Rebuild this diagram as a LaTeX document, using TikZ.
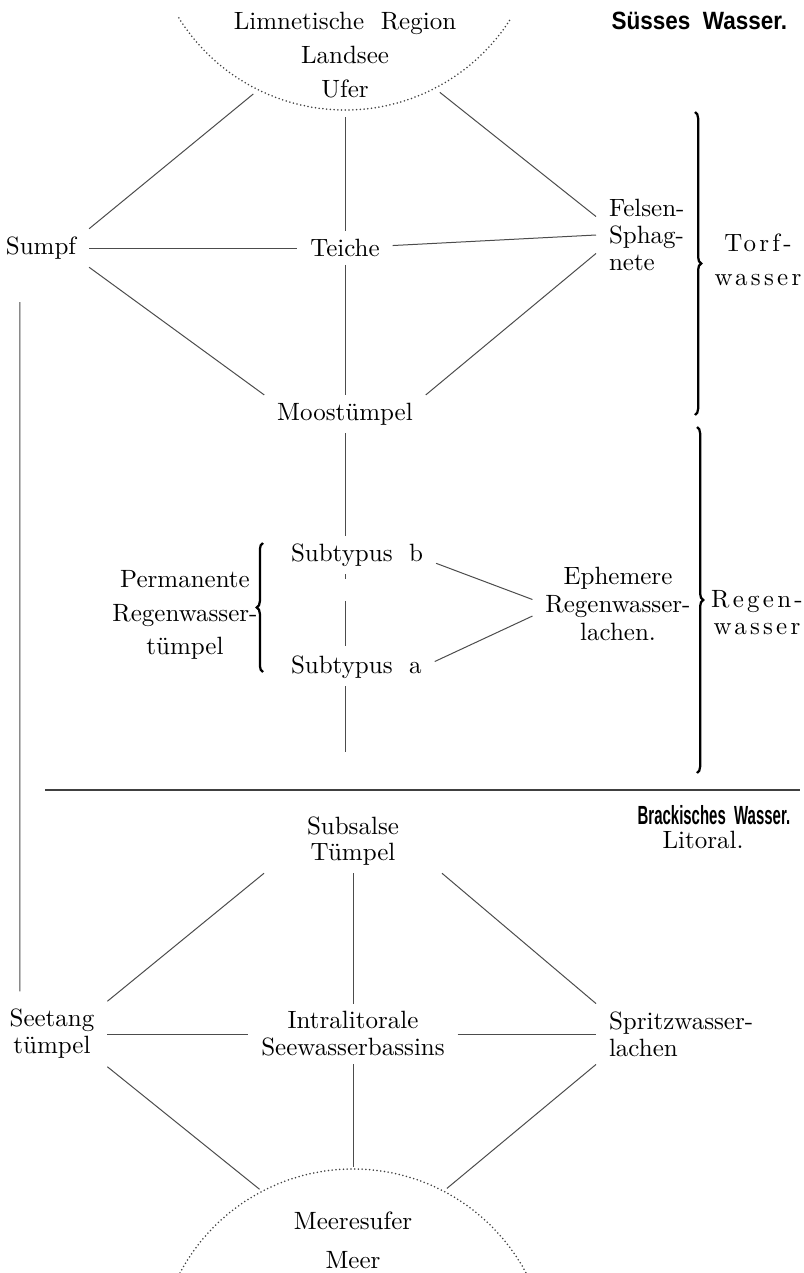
\documentclass[tikz,border=0pt]{standalone}
\usepackage{fontspec}
\newfontfamily\kopf{Liberation Sans}[FakeStretch=0.9]
\newfontfamily\kopfschmal{Liberation Sans}[FakeStretch=0.57]
\newfontfamily\sperrfont{lmroman10-regular.otf}[LetterSpace=13]
\usetikzlibrary{decorations.pathreplacing}

\begin{document}
\begin{tikzpicture}[x=0.4pt, y=-0.4pt,
    txt/.style={inner xsep=5pt, inner ysep=3pt, align=center},
    verb/.style={line width=0.4pt, black!70},
    punkt/.style={line width=0.7pt, black!75, line cap=round, dash pattern=on 0pt off 1.5pt},
    klammer/.style={decorate, decoration={brace, amplitude=2.5pt}, line width=0.9pt},
    sperr/.style={align=center}]
    \useasboundingbox (0,0) rectangle (804,1273);

    % 1. Suesses Wasser
    \draw[punkt] ([shift={(345,-86)}]148:196) arc[start angle=148, end angle=32, radius=196];
    \coordinate (seeL) at ([shift={(345,-86)}]117:202);
    \coordinate (seeC) at ([shift={(345,-86)}]90:203);
    \coordinate (seeR) at ([shift={(345,-86)}]62:202);
    \node[txt, font=\fontsize{10}{13.6}\selectfont] (see) at (345,55) {Limnetische\ \ Region\\Landsee\\Ufer};
    \node[anchor=east, font=\kopf\bfseries\fontsize{10}{12}\selectfont] (suess) at (796,21) {Süsses\ \ Wasser.};

    \node[txt] (sumpf) at (41,248) {Sumpf};
    \node[txt] (teiche) at (345,248) {Teiche};
    \node[txt, align=left, anchor=west, font=\fontsize{10}{10.8}\selectfont] (felsen) at (596,235) {Felsen-\\Sphag-\\nete};
    \node[sperr, font=\sperrfont\fontsize{10}{13.6}\selectfont] (torf) at (758,260) {Torf-\\wasser};
    \node[txt] (moos) at (345,414) {Moostümpel};

    \draw[verb] (seeL) -- (sumpf.north east);
    \draw[verb] (seeC) -- (teiche.north);
    \draw[verb] (seeR) -- (felsen.160);
    \draw[verb] (sumpf) -- (teiche);
    \draw[verb] (teiche) -- (felsen.west);
    \draw[verb] (sumpf.south east) -- (moos.north west);
    \draw[verb] (teiche) -- (moos);
    \draw[verb] (felsen.200) -- (moos.north east);
    \draw[klammer] (695,112) -- (695,415);

    % 2. Regenwasser
    \node[txt, anchor=west] (subb) at (278,555) {Subtypus\ \ b};
    \node[txt, anchor=west] (suba) at (278,667) {Subtypus\ \ a};
    \node[txt, font=\fontsize{10}{13.5}\selectfont] (perm) at (185,615) {Permanente\\Regenwasser-\\tümpel};
    \node[txt, font=\fontsize{10}{11.2}\selectfont] (eph) at (618,604) {Ephemere\\Regenwasser-\\lachen.};
    \node[sperr, font=\sperrfont\fontsize{10}{10.8}\selectfont] (regen) at (757,613) {Regen-\\wasser};
    \coordinate (regEnd) at (345,752);

    \draw[verb] (moos) -- (moos |- subb.north);
    \draw[verb, dash pattern=on 2pt off 8.6pt on 18pt off 5pt] (subb.south -| moos) -- (suba.north -| moos);
    \draw[verb] (suba.south -| moos) -- (regEnd);
    \draw[verb] (subb.-6) -- (eph.177);
    \draw[verb] (suba.4) -- (eph.188);
    \draw[klammer] (263,672) -- (263,543);
    \draw[klammer] (697,427) -- (697,773);

    \draw[line width=0.6pt, black!75] (45,790) -- (800,790);

    % 3. Brackisches Wasser
    \node[txt, font=\fontsize{10}{10.4}\selectfont] (subs) at (353,841) {Subsalse\\Tümpel};
    \node[anchor=east, font=\kopfschmal\bfseries\fontsize{10.5}{12}\selectfont] (brack) at (799,815) {Brackisches\ \ Wasser.};
    \node (litoral) at (703,840) {Litoral.};
    \node[txt, font=\fontsize{10}{10.8}\selectfont] (seetang) at (52,1034) {Seetang\\tümpel};
    \node[txt, font=\fontsize{10}{10.8}\selectfont] (inter) at (353,1034) {Intralitorale\\Seewasserbassins};
    \node[txt, align=left, anchor=west, font=\fontsize{10}{10.8}\selectfont] (spritz) at (596,1034) {Spritzwasser-\\lachen};
    \node[txt, font=\fontsize{10}{15.6}\selectfont] (meer) at (353,1240) {Meeresufer\\Meer};

    \draw[punkt] ([shift={(353,1365)}]208:196) arc[start angle=208, end angle=332, radius=196];
    \coordinate (meerL) at ([shift={(353,1365)}]242:199);
    \coordinate (meerC) at ([shift={(353,1365)}]270:198);
    \coordinate (meerR) at ([shift={(353,1365)}]298:200);

    \draw[verb] ([xshift=-8.4pt, yshift=-14pt]sumpf.south) -- ([xshift=-12.8pt, yshift=4pt]seetang.north);
    \draw[verb] (seetang.north east) -- ([xshift=-12pt]subs.south west);
    \draw[verb] (subs) -- (inter);
    \draw[verb] ([xshift=12pt]subs.south east) -- (spritz.north west);
    \draw[verb] (seetang) -- (inter);
    \draw[verb] (inter) -- (spritz);
    \draw[verb] (seetang.south east) -- (meerL);
    \draw[verb] (inter) -- (meerC);
    \draw[verb] (spritz.south west) -- (meerR);
\end{tikzpicture}
\end{document}
